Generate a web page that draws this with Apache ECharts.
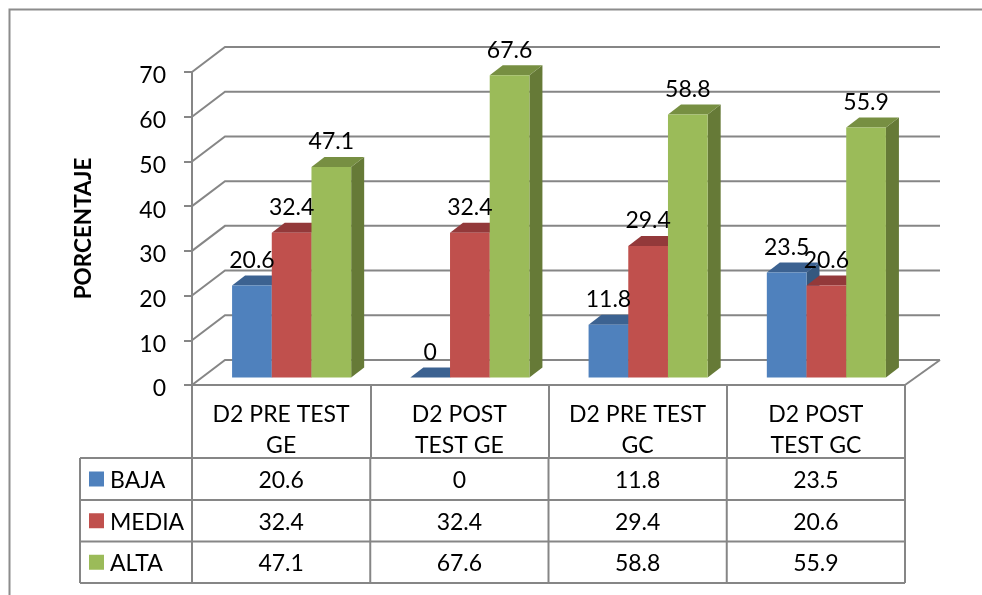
<!DOCTYPE html>
<html>
<head>
<meta charset="utf-8">
<style>html,body{margin:0;padding:0;background:#fff}#main{width:982px;height:595px}</style>
<script src="https://cdn.jsdelivr.net/npm/echarts@6/dist/echarts.min.js"></script>
</head>
<body>
<div id="main"></div>
<script>
var categories = ['D2 PRE TEST\nGE', 'D2 POST\nTEST GE', 'D2 PRE TEST\nGC', 'D2 POST\nTEST GC']
var baja = [20.6, 0, 11.8, 23.5]
var media = [32.4, 32.4, 29.4, 20.6]
var alta = [47.1, 67.6, 58.8, 55.9]
var yTicks = [0, 10, 20, 30, 40, 50, 60, 70]
var seriesNames = ['BAJA', 'MEDIA', 'ALTA']

var chart = echarts.init(document.getElementById('main'))
var font = 'Lato'
var gray = '#868686'

// depth of the fake 3d box
var wallDx = 33, wallDy = -25
var barDx = 13, barDy = -10
var floorDx = 10.5, floorDy = -7.5

function wallItem(params, api){
	var y = api.coord([0, api.value(0)])[1]
	var left = params.coordSys.x
	var right = left + params.coordSys.width
	var style = {stroke: gray, lineWidth: 2, fill: null}
	var kids = [{
		type: 'polyline',
		shape: {points: [[left, y], [left + wallDx, y + wallDy], [right + wallDx + 2, y + wallDy]]},
		style: style
	}]
	if(api.value(0) === 0){
		kids.push({
			type: 'line',
			shape: {x1: right, y1: y, x2: right + wallDx + 2, y2: y + wallDy},
			style: style
		})
	}
	return {type: 'group', children: kids}
}

function barItem(idx, front, top, side){
	return function(params, api){
		var band = api.size([1, 0])[0]
		var w = band * 0.2227
		var c = api.coord([api.value(0), api.value(1)])
		var base = api.coord([api.value(0), 0])
		var x = c[0] + floorDx + (idx - 1.5) * w
		var yTop = c[1] + floorDy
		var yBase = base[1] + floorDy
		return {
			type: 'group',
			children: [
				{type: 'polygon', shape: {points: [[x + w, yTop], [x + w + barDx, yTop + barDy], [x + w + barDx, yBase + barDy], [x + w, yBase]]}, style: {fill: side}},
				{type: 'polygon', shape: {points: [[x, yTop], [x + barDx, yTop + barDy], [x + w + barDx, yTop + barDy], [x + w, yTop]]}, style: {fill: top}},
				{type: 'rect', shape: {x: x, y: yTop, width: w, height: yBase - yTop}, style: {fill: front}},
				{type: 'text', z2: 50, style: {text: String(api.value(1)), x: x + w / 2, y: yTop - 25, align: 'center', verticalAlign: 'middle', font: '23px ' + font, fill: '#000'}}
			]
		}
	}
}

function barData(arr){
	return arr.map(function(v, i){ return [i, v] })
}

// data table under the plot
var colX = [192, 370.25, 548.5, 726.75, 905]
var rowY = [458, 500, 541.5, 583]
var tableLeft = 80
var swatch = ['#4f81bd', '#c0504d', '#9bbb59']
var rows = [baja, media, alta]
var graphics = [{
	type: 'polyline',
	shape: {points: [[9.5, 595], [9.5, 9.5], [982, 9.5]]},
	style: {fill: null, stroke: '#8c8c8c', lineWidth: 2},
	silent: true
}]
rowY.forEach(function(y){
	graphics.push({type: 'line', shape: {x1: tableLeft, y1: y, x2: 905, y2: y}, style: {stroke: gray, lineWidth: 2}})
})
graphics.push({type: 'line', shape: {x1: tableLeft, y1: rowY[0], x2: tableLeft, y2: rowY[3]}, style: {stroke: gray, lineWidth: 2}})
colX.forEach(function(x){
	graphics.push({type: 'line', shape: {x1: x, y1: rowY[0], x2: x, y2: rowY[3]}, style: {stroke: gray, lineWidth: 2}})
})
rows.forEach(function(row, r){
	var cy = (rowY[r] + rowY[r + 1]) / 2
	graphics.push({type: 'rect', shape: {x: 89, y: cy - 7.5, width: 15, height: 15}, style: {fill: swatch[r]}})
	graphics.push({type: 'text', style: {text: seriesNames[r], x: 110, y: cy + 1.5, verticalAlign: 'middle', font: '23px ' + font, fill: '#000'}})
	row.forEach(function(v, c){
		graphics.push({type: 'text', style: {text: String(v), x: (colX[c] + colX[c + 1]) / 2, y: cy + 1.5, align: 'center', verticalAlign: 'middle', font: '23px ' + font, fill: '#000'}})
	})
})

var option = {
	animation: false,
	backgroundColor: '#fff',
	grid: {left: 192, top: 72, width: 713, height: 313},
	xAxis: {
		type: 'category',
		data: categories,
		axisLine: {onZero: false, lineStyle: {color: gray, width: 2}},
		axisTick: {show: true, length: 73, lineStyle: {color: gray, width: 2}},
		axisLabel: {color: '#000', fontFamily: font, fontSize: 23, lineHeight: 31, margin: 14}
	},
	yAxis: {
		type: 'value',
		min: 0,
		max: 70,
		interval: 10,
		name: 'PORCENTAJE',
		nameLocation: 'middle',
		nameRotate: 90,
		nameGap: 97,
		nameTextStyle: {color: '#000', fontFamily: font, fontSize: 22.5, fontWeight: 'bold'},
		axisLine: {show: true, onZero: false, lineStyle: {color: gray, width: 2}},
		axisTick: {show: true, length: 8, lineStyle: {color: gray, width: 2}},
		axisLabel: {
			margin: 26,
			formatter: '{a|{value}}',
			rich: {a: {color: '#000', fontFamily: font, fontSize: 23, padding: [8, 0, 0, 0]}}
		},
		splitLine: {show: false}
	},
	graphic: graphics,
	series: [
		{type: 'custom', name: 'wall', data: yTicks.map(function(v){ return [v] }), encode: {y: 0}, renderItem: wallItem, silent: true, clip: false},
		{type: 'custom', name: seriesNames[0], data: barData(baja), encode: {x: 0, y: 1}, renderItem: barItem(0, '#4f81bd', '#3c6291', '#35587f'), clip: false},
		{type: 'custom', name: seriesNames[1], data: barData(media), encode: {x: 0, y: 1}, renderItem: barItem(1, '#c0504d', '#93393a', '#7f3533'), clip: false},
		{type: 'custom', name: seriesNames[2], data: barData(alta), encode: {x: 0, y: 1}, renderItem: barItem(2, '#9bbb59', '#778f42', '#667a37'), clip: false}
	]
}
chart.setOption(option)
</script>
</body>
</html>
